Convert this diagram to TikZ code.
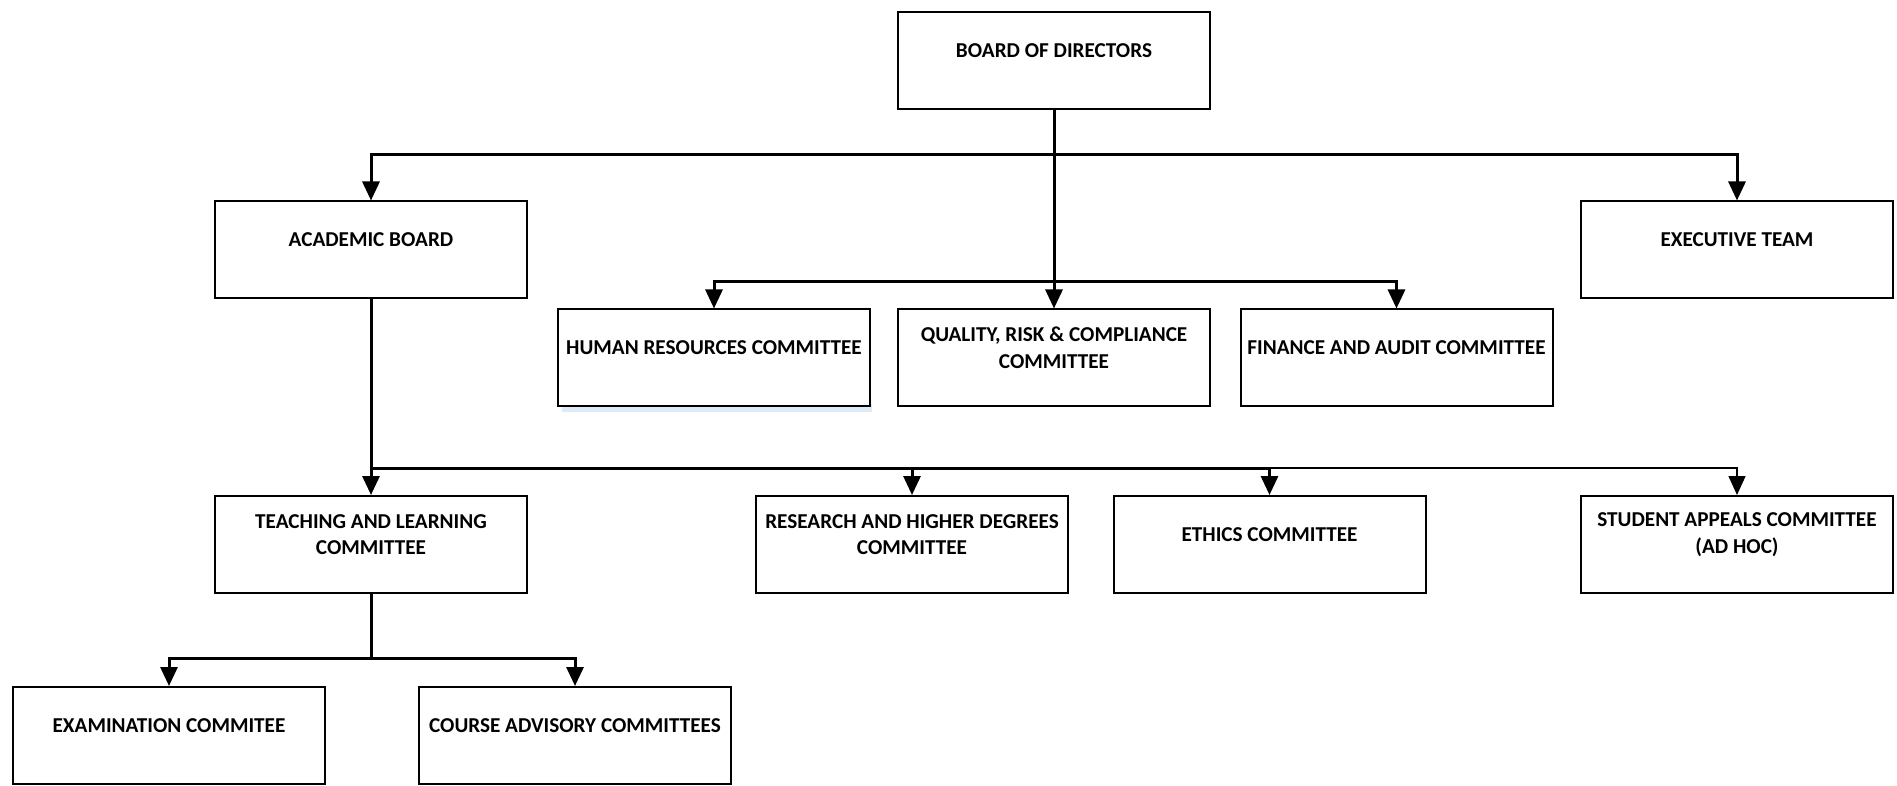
\documentclass[tikz,border=0pt]{standalone}
\usepackage{fontspec}
\setmainfont{Carlito}
\usetikzlibrary{arrows.meta}
\definecolor{glow}{RGB}{200,220,240}
\begin{document}
\begin{tikzpicture}[x=0.5pt,y=-0.5pt,
  box/.style={draw=black, line width=1pt, fill=white, minimum width=156pt, minimum height=48.5pt, inner sep=0pt},
  txt/.style={font=\fontsize{10.6}{13.3}\selectfont\bfseries, align=center},
  conn/.style={line width=1.5pt, -{Triangle[width=8.5pt,length=9.5pt]}},
  thinconn/.style={line width=0.7pt, -{Triangle[width=8.5pt,length=9.5pt]}},
  bus/.style={line width=1.5pt},
  thinbus/.style={line width=0.7pt}]
\useasboundingbox (0,0) rectangle (1897,786);
% glow under HR box
\fill[glow, opacity=0.6] (562,404) rectangle (872,412);
% boxes
\node[box] (board) at (1054,61) {};
\node[box] (acad) at (371,250) {};
\node[box] (exec) at (1737,250) {};
\node[box] (hr) at (714,358) {};
\node[box] (qrc) at (1054,358) {};
\node[box] (fin) at (1396.5,358) {};
\node[box] (teach) at (371,544.5) {};
\node[box] (res) at (912,544.5) {};
\node[box] (eth) at (1269.5,544.5) {};
\node[box] (stud) at (1737,544.5) {};
\node[box] (exam) at (169,735.5) {};
\node[box] (course) at (575,735.5) {};
% texts
\node[txt] (tboard) at ([yshift=5pt]board.center) {BOARD OF DIRECTORS};
\node[txt] (tacad) at ([yshift=5pt]acad.center) {ACADEMIC BOARD};
\node[txt] (texec) at ([yshift=5pt]exec.center) {EXECUTIVE TEAM};
\node[txt] (thr) at ([yshift=5pt]hr.center) {HUMAN RESOURCES COMMITTEE};
\node[txt] (tqrc) at ([yshift=5pt]qrc.center) {QUALITY, RISK \& COMPLIANCE\\COMMITTEE};
\node[txt] (tfin) at ([yshift=5pt]fin.center) {FINANCE AND AUDIT COMMITTEE};
\node[txt] (tteach) at ([yshift=5pt]teach.center) {TEACHING AND LEARNING\\COMMITTEE};
\node[txt] (tres) at ([yshift=5pt]res.center) {RESEARCH AND HIGHER DEGREES\\COMMITTEE};
\node[txt] (teth) at ([yshift=5pt]eth.center) {ETHICS COMMITTEE};
\node[txt] (tstud) at ([yshift=5pt]stud.center) {STUDENT APPEALS COMMITTEE\\(AD HOC)};
\node[txt] (texam) at ([yshift=5pt]exam.center) {EXAMINATION COMMITEE};
\node[txt] (tcourse) at ([yshift=5pt]course.center) {COURSE ADVISORY COMMITTEES};
% junctions
\coordinate (j1) at (1054,155);
\coordinate (j2) at (1054,282);
\coordinate (j3) at (371,468);
\coordinate (j3e) at (1269.5,468);
\coordinate (j4) at (371,658);
% connectors
\draw[conn] (board.south) -- (qrc.north);
\draw[conn] (j1) -| (acad.north);
\draw[conn] (j1) -| (exec.north);
\draw[conn] (j2) -| (hr.north);
\draw[conn] (j2) -| (fin.north);
\draw[conn] (acad.south) -- (teach.north);
\draw[conn] (j3) -| (res.north);
\draw[conn] (j3) -| (eth.north);
\draw[thinconn] (j3e) -| (stud.north);
\draw[bus] (teach.south) -- (j4);
\draw[conn] (j4) -| (exam.north);
\draw[conn] (j4) -| (course.north);
\end{tikzpicture}
\end{document}
